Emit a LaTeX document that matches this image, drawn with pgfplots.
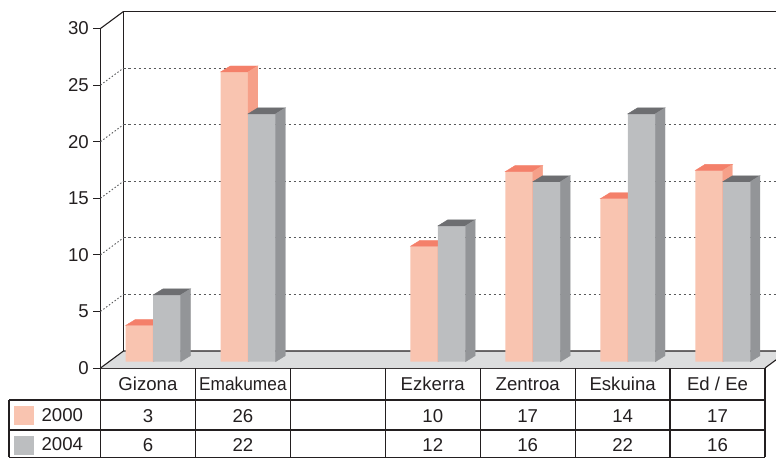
\documentclass[border=0pt]{standalone}
\usepackage{fontspec}
\setmainfont{Liberation Sans}
\usepackage{graphicx}
\usepackage{pgfplots}
\usepackage{pgfplotstable}
\pgfplotsset{compat=1.18}
\pgfdeclareplotmark{nomark}{}
\definecolor{lc}{HTML}{231F20}
\definecolor{gc}{HTML}{58595B}
\definecolor{sF}{HTML}{F9C4B0}
\definecolor{sT}{HTML}{F4806A}
\definecolor{sS}{HTML}{F6A089}
\definecolor{gF}{HTML}{BCBEC0}
\definecolor{gT}{HTML}{6D6E71}
\definecolor{gS}{HTML}{939598}
\definecolor{floor}{HTML}{DCDDDE}
\newcommand\tcell[3]{\begin{tabular}[t]{@{}c@{}}#1\\[9.7pt]#2\\[6.6pt]#3\end{tabular}}
\pgfplotstableread{
x y
0 3.2
1 25.6
3 10.2
4 16.8
5 14.4
6 16.9
}\dataA
\pgfplotstableread{
x y
0 5.9
1 21.9
3 12.0
4 15.9
5 21.9
6 15.9
}\dataB
\pgfplotsset{
  barplane/.style={
    at={(105.7pt,96.3pt)}, anchor=south west,
    x=94.93pt, y=11.317pt,
    xmin=-0.5, xmax=6.5, ymin=0, ymax=30,
    hide axis, clip=false,
  }
}
\begin{document}
\begin{tikzpicture}
\useasboundingbox (0,0) rectangle (776pt,458pt);
\begin{axis}[
  at={(100.5pt,90pt)}, anchor=south west,
  x=94.93pt, y=11.317pt,
  xmin=-0.5, xmax=6.5, ymin=0, ymax=30,
  axis x line*=bottom, axis y line*=left,
  axis line style={line width=1.1pt, draw=lc, -},
  clip=false,
  ytick={0,5,...,30},
  tick align=outside, major tick length=7pt,
  ytick style={line width=1pt, draw=lc},
  /pgf/number format/assume math mode=true,
  yticklabel style={anchor=east, inner sep=0pt, xshift=-4.5pt, text=lc, font=\fontsize{18.6}{22}\selectfont},
  xtick={0,...,6}, xtick style={draw=none},
  xticklabels={{\tcell{Gizona}{3}{6}},{\tcell{\scalebox{0.93}[1]{Emakumea}}{26}{22}},{},{\tcell{Ezkerra}{10}{12}},{\tcell{Zentroa}{17}{16}},{\tcell{Eskuina}{14}{22}},{\tcell{Ed / Ee}{17}{16}}},
  xticklabel style={anchor=base, inner sep=0pt, yshift=-15.5pt, text=lc, font=\fontsize{18.6}{22.3}\selectfont},
  legend style={at={(axis description cs:-0.1302,-0.1119)}, anchor=north west, draw=none, fill=none, inner sep=0pt, row sep=11pt, column sep=8pt, font=\fontsize{18.6}{22}\selectfont, text=lc, nodes={inner sep=0pt}},
  legend cell align=left,
]
% floor
\fill[floor] (axis cs:-0.5,0) -- (axis cs:6.5,0) -- ([shift={(23pt,17pt)}]axis cs:6.5,0) -- ([shift={(23pt,17pt)}]axis cs:-0.5,0) -- cycle;
\draw[lc, line width=1.1pt, line join=round] (axis cs:6.5,0) -- ([shift={(23pt,17pt)}]axis cs:6.5,0) -- ([shift={(23pt,17pt)}]axis cs:-0.5,0) -- (axis cs:-0.5,0);
% back wall
\draw[lc, line width=1.1pt, line join=round] ([shift={(23pt,17pt)}]axis cs:-0.5,0) -- ([shift={(23pt,17pt)}]axis cs:-0.5,30) -- ([shift={(23pt,17pt)}]axis cs:6.5,30) -- ([shift={(23pt,17pt)}]axis cs:6.5,0);
\draw[lc, line width=1.1pt] (axis cs:-0.5,30) -- ([shift={(23pt,17pt)}]axis cs:-0.5,30);
% grid
\pgfplotsinvokeforeach{5,10,15,20,25}{
  \draw[gc, line width=0.9pt, dash pattern=on 1.5pt off 2pt] (axis cs:-0.5,#1) -- ([shift={(23pt,17pt)}]axis cs:-0.5,#1);
  \draw[gc, line width=1pt, dash pattern=on 2.5pt off 2.5pt] ([shift={(23pt,17pt)}]axis cs:-0.5,#1) -- ([shift={(23pt,17pt)}]axis cs:6.5,#1);
}
\addlegendimage{legend image code/.code={\fill[sF] (0pt,-9pt) rectangle (19pt,9pt);}}
\addlegendentry{2000}
\addlegendimage{legend image code/.code={\fill[gF] (0pt,-9pt) rectangle (19pt,9pt);}}
\addlegendentry{2004}
\end{axis}
% series 2000
\begin{axis}[barplane]
\addplot[ybar, bar width=27.5pt, bar shift=-13.75pt, fill=sF, draw=none] table[x=x,y=y] {\dataA};
\addplot[scatter, only marks, mark=nomark,
  visualization depends on={rawy \as \val},
  scatter/@pre marker code/.code={%
    \pgfmathsetlengthmacro\hh{\val*11.317}%
    \fill[sT] (-27.5pt,0pt) -- (0pt,0pt) -- (9.7pt,6pt) -- (-17.8pt,6pt) -- cycle;
    \fill[sS] (0pt,0pt) -- (9.7pt,6pt) -- (9.7pt,6pt-\hh) -- (0pt,-\hh) -- cycle;
  },
  scatter/@post marker code/.code={}] table[x=x,y=y] {\dataA};
\end{axis}
% series 2004
\begin{axis}[barplane]
\addplot[ybar, bar width=27.5pt, bar shift=13.75pt, fill=gF, draw=none] table[x=x,y=y] {\dataB};
\addplot[scatter, only marks, mark=nomark,
  visualization depends on={rawy \as \val},
  scatter/@pre marker code/.code={%
    \pgfmathsetlengthmacro\hh{\val*11.317}%
    \fill[gT] (0pt,0pt) -- (27.5pt,0pt) -- (37.2pt,6pt) -- (9.7pt,6pt) -- cycle;
    \fill[gS] (27.5pt,0pt) -- (37.2pt,6pt) -- (37.2pt,6pt-\hh) -- (27.5pt,-\hh) -- cycle;
  },
  scatter/@post marker code/.code={}] table[x=x,y=y] {\dataB};
\end{axis}
% table rules
\begin{scope}[lc, line width=1.2pt]
\draw (9pt,58pt) -- (765pt,58pt);
\draw (9pt,28pt) -- (765pt,28pt);
\draw (9pt,0.8pt) -- (765pt,0.8pt);
\draw (9pt,58pt) -- (9pt,0.8pt);
\foreach \k in {0,...,7} {\draw ({100.5pt+\k*94.93pt},90pt) -- ({100.5pt+\k*94.93pt},0.8pt);}
\end{scope}
\end{tikzpicture}
\end{document}
